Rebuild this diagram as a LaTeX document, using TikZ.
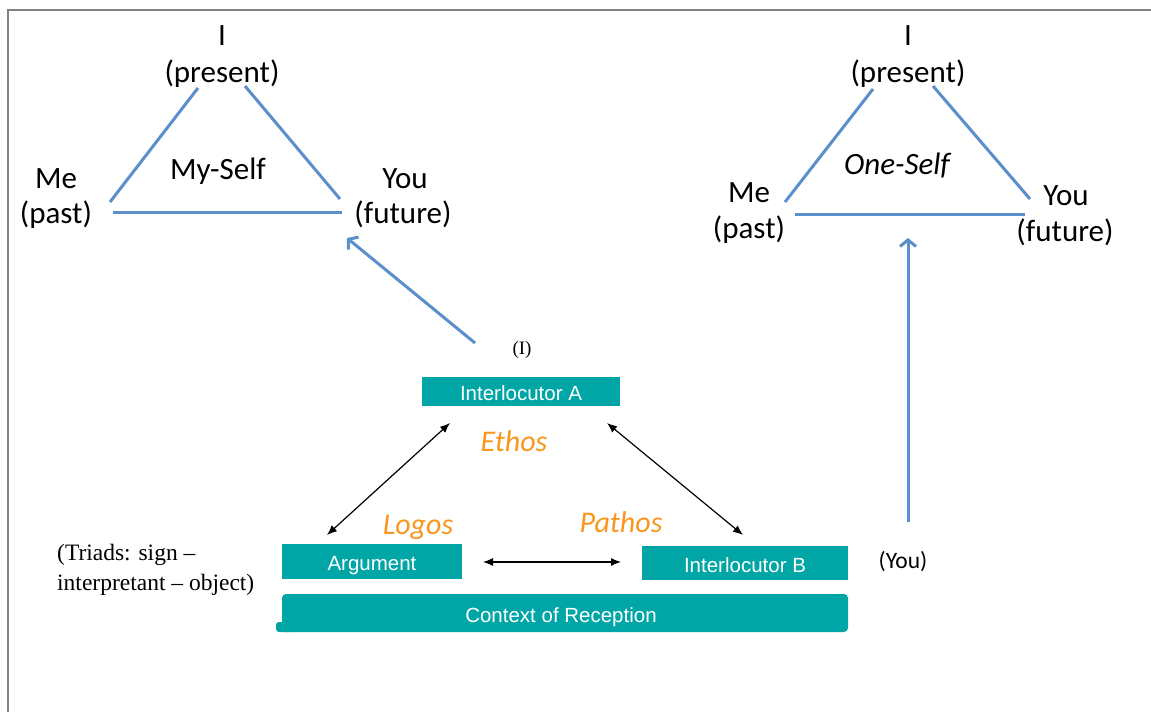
\documentclass[tikz,border=0pt]{standalone}
\usepackage{fontspec}
\setmainfont{Carlito}
\newfontfamily\arialfont{Liberation Sans}
\newfontfamily\timesfont{Liberation Serif}
\usetikzlibrary{arrows.meta}
\definecolor{selfblue}{RGB}{90,143,204}
\definecolor{boxteal}{RGB}{0,166,166}
\definecolor{appeal}{RGB}{250,150,30}
\definecolor{framegray}{RGB}{130,130,130}
\begin{document}
\begin{tikzpicture}[x=1pt,y=-1pt,
  selflabel/.style={font=\fontsize{31}{36}\selectfont, anchor=base, inner sep=0pt},
  appeallabel/.style={font=\fontsize{30}{34}\selectfont\itshape, text=appeal, anchor=base, inner sep=0pt},
  tealbox/.style={fill=boxteal, draw=none, text=white, inner sep=0pt,
    text height=18pt, text depth=0pt,
    font=\arialfont\fontsize{20.5}{24}\selectfont},
  serifnote/.style={font=\timesfont\fontsize{19}{22}\selectfont, anchor=base, inner sep=0pt},
  selfline/.style={draw=selfblue, line width=3pt},
  selfarrow/.style={draw=selfblue, line width=3pt, -{Straight Barb[length=6.5pt,width=16pt]}},
  dblarrow/.style={draw=black, line width=1.2pt, {Latex[length=10pt,width=8pt]}-{Latex[length=10pt,width=8pt]}}
]
\useasboundingbox (0,0) rectangle (1151,712);
\fill[white] (0,0) rectangle (1151,712);

% page frame (top and left edges)
\draw[framegray, line width=2pt] (8,712) -- (8,9.5) -- (1151,9.5);

% ---- My-Self triad ----
\node[selflabel] (mI)  at (222,45)  {I};
\node[selflabel] (mIp) at (222,82)  {(present)};
\node[selflabel] (mMe) at (56,188)  {Me};
\node[selflabel] (mMp) at (56,223)  {(past)};
\node[selflabel] (mYo) at (405,188) {You};
\node[selflabel] (mYf) at (403,223) {(future)};
\node[selflabel] (mSelf) at (218,179) {My-Self};
\coordinate (mL1) at (110,202); \coordinate (mL2) at (198,88);
\coordinate (mR1) at (245,86);  \coordinate (mR2) at (340,199);
\coordinate (mB1) at (113,212); \coordinate (mB2) at (342,212);
\draw[selfline] (mL1) -- (mL2);
\draw[selfline] (mR1) -- (mR2);
\draw[selfline] (mB1) -- (mB2);

% ---- One-Self triad ----
\node[selflabel] (oI)  at (908,45)  {I};
\node[selflabel] (oIp) at (908,82)  {(present)};
\node[selflabel] (oMe) at (749,202) {Me};
\node[selflabel] (oMp) at (749,238) {(past)};
\node[selflabel] (oYo) at (1066,205) {You};
\node[selflabel] (oYf) at (1065,241) {(future)};
\node[selflabel, font=\fontsize{31}{36}\selectfont\itshape] (oSelf) at (897,174) {One-Self};
\coordinate (oL1) at (785,202); \coordinate (oL2) at (873,89);
\coordinate (oR1) at (933,86);  \coordinate (oR2) at (1030,199);
\coordinate (oB1) at (795,214); \coordinate (oB2) at (1025,214);
\draw[selfline] (oL1) -- (oL2);
\draw[selfline] (oR1) -- (oR2);
\draw[selfline] (oB1) -- (oB2);

% ---- interlocution triangle ----
\node[tealbox, minimum width=198pt, minimum height=29pt] (ia) at (521,391.5) {Interlocutor A};
\node[tealbox, minimum width=180pt, minimum height=35pt] (arg) at (372,561.5) {Argument};
\node[tealbox, minimum width=206pt, minimum height=34pt] (ib) at (745,563) {Interlocutor B};
\fill[boxteal, rounded corners=3pt] (276,622) rectangle (292,632);
\node[tealbox, minimum width=566pt, minimum height=38pt, rounded corners=4pt] (ctx) at (565,613) {};
\node[font=\arialfont\fontsize{20.5}{24}\selectfont, text=white, inner sep=0pt,
  text height=15pt, text depth=3pt] (ctxt) at (561,616) {Context of Reception};

\node[appeallabel] (ethos)  at (514,451) {Ethos};
\node[appeallabel] (logos)  at (418,534) {Logos};
\node[appeallabel] (pathos) at (621,532) {Pathos};

\coordinate (e1) at (327,535); \coordinate (e2) at (450,423);
\coordinate (p1) at (607,423); \coordinate (p2) at (743,535);
\coordinate (l1) at (483,562); \coordinate (l2) at (621,562);
\draw[dblarrow] (e1) -- (e2);
\draw[dblarrow] (p1) -- (p2);
\draw[dblarrow] (l1) -- (l2);

% ---- side notes ----
\node[serifnote] (noteI) at (522,354) {(I)};
\node[selflabel, font=\fontsize{23.5}{28}\selectfont] (noteYou) at (903,568) {(You)};
\node[font=\timesfont\fontsize{23.5}{30}\selectfont, align=left, anchor=north west, inner sep=0pt] (triads) at (57,544)
  {(Triads: sign –\\interpretant – object)};

% ---- links to the triads ----
\coordinate (aI1) at (475,343); \coordinate (aI2) at (347,238);
\coordinate (aY1) at (908,522); \coordinate (aY2) at (908,238);
\draw[selfarrow] (aI1) -- (aI2);
\draw[selfarrow] (aY1) -- (aY2);
\end{tikzpicture}
\end{document}
